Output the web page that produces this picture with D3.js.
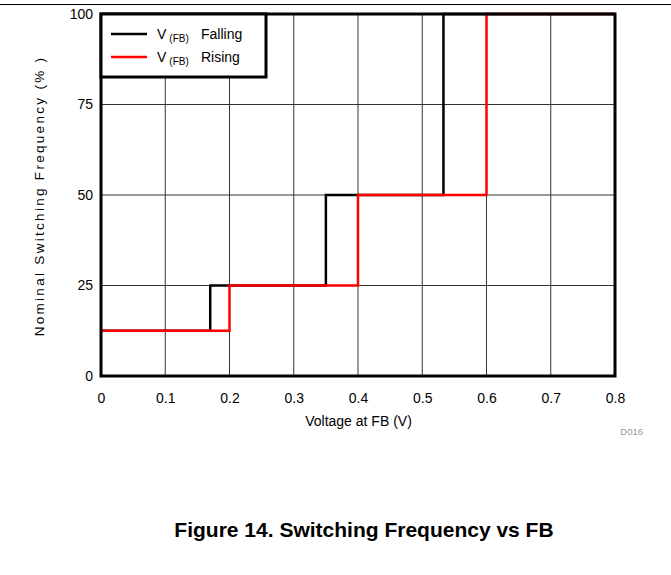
<!DOCTYPE html>
<html><head><meta charset="utf-8">
<script src="https://d3js.org/d3.v7.min.js"></script>
<style>body{margin:0;background:#fff}svg{display:block}</style>
</head><body>
<script>
const xTicks = [0,0.1,0.2,0.3,0.4,0.5,0.6,0.7,0.8];
const yTicks = [0,25,50,75,100];
// step series: [x, y] vertices of the step line
const fallingX = [0,0.17,0.17,0.35,0.35,0.533,0.533,0.8];
const fallingY = [12.5,12.5,25,25,50,50,100,100];
const risingX = [0,0.2,0.2,0.4,0.4,0.6,0.6,0.8];
const risingY = [12.5,12.5,25,25,50,50,100,100];
const seriesNames = ["Falling","Rising"];
const seriesColors = ["#000000","#ff0000"];

const FONT="Arial, Helvetica, sans-serif";
const W=671,H=575;
const svg=d3.select("body").append("svg").attr("width",W).attr("height",H)
  .style("font-family",FONT);
const m={l:101,r:615,t:14,b:376};
const x=d3.scaleLinear().domain([0,0.8]).range([m.l,m.r]);
const y=d3.scaleLinear().domain([0,100]).range([m.b,m.t]);

// top rule
svg.append("line").attr("x1",0).attr("x2",W).attr("y1",4.5).attr("y2",4.5).attr("stroke","#000").attr("stroke-width",1.2);

// grid
svg.append("g").selectAll("line").data(xTicks.slice(1,-1)).join("line")
  .attr("x1",d=>x(d)).attr("x2",d=>x(d)).attr("y1",m.t).attr("y2",m.b)
  .attr("stroke","#333").attr("stroke-width",1);
svg.append("g").selectAll("line").data(yTicks.slice(1,-1)).join("line")
  .attr("x1",m.l).attr("x2",m.r).attr("y1",d=>y(d)).attr("y2",d=>y(d))
  .attr("stroke","#333").attr("stroke-width",1);

// axes tick labels
const xa=d3.axisBottom(x).tickValues(xTicks).tickSize(0).tickPadding(17).tickFormat(d=>d===0?"0":d3.format(".1f")(d));
const gx=svg.append("g").attr("transform",`translate(0,${m.b})`).call(xa);
gx.select(".domain").remove();
gx.selectAll("text").attr("font-size",14).attr("fill","#000").style("font-family",FONT);
const ya=d3.axisLeft(y).tickValues(yTicks).tickSize(0).tickPadding(8);
const gy=svg.append("g").attr("transform",`translate(${m.l},0)`).call(ya);
gy.select(".domain").remove();
gy.selectAll("text").attr("font-size",14).attr("fill","#000").style("font-family",FONT);

// lines
const line=d3.line().x(d=>x(d[0])).y(d=>y(d[1]));
const fall=fallingX.map((v,i)=>[v,fallingY[i]]);
const rise=risingX.map((v,i)=>[v,risingY[i]]);
svg.append("path").datum(fall).attr("d",line).attr("fill","none").attr("stroke",seriesColors[0]).attr("stroke-width",2.5);
svg.append("path").datum(rise).attr("d",line).attr("fill","none").attr("stroke",seriesColors[1]).attr("stroke-width",2.5);

// border
svg.append("rect").attr("x",m.l).attr("y",m.t).attr("width",m.r-m.l).attr("height",m.b-m.t)
  .attr("fill","none").attr("stroke","#000").attr("stroke-width",3);

// legend
const lg=svg.append("g");
lg.append("rect").attr("x",m.l).attr("y",m.t).attr("width",165).attr("height",63)
  .attr("fill","#fff").attr("stroke","#000").attr("stroke-width",3);
seriesNames.forEach((n,i)=>{
  const yy=34+i*23;
  lg.append("line").attr("x1",111).attr("x2",147).attr("y1",yy).attr("y2",yy).attr("stroke",seriesColors[i]).attr("stroke-width",2.5);
  const t=lg.append("text").attr("x",157).attr("y",yy+5).attr("font-size",14).attr("fill","#000");
  t.append("tspan").text("V");
  t.append("tspan").attr("dx",3).attr("dy",3).attr("font-size",10).text("(FB)");
  t.append("tspan").attr("x",201).attr("dy",-3).text(n);
});

// titles
svg.append("text").attr("x",358.5).attr("y",426).attr("text-anchor","middle").attr("font-size",14).text("Voltage at FB (V)");
svg.append("text").attr("transform","translate(44,196) rotate(-90)").attr("text-anchor","middle")
  .attr("font-size",13.5).attr("letter-spacing",2.3).text("Nominal Switching Frequency (% )");
svg.append("text").attr("x",643).attr("y",435).attr("text-anchor","end").attr("font-size",9.5).attr("fill","#999").text("D016");
svg.append("text").attr("x",364).attr("y",537).attr("text-anchor","middle").attr("font-size",21).attr("font-weight","bold").text("Figure 14. Switching Frequency vs FB");
</script>
</body></html>
